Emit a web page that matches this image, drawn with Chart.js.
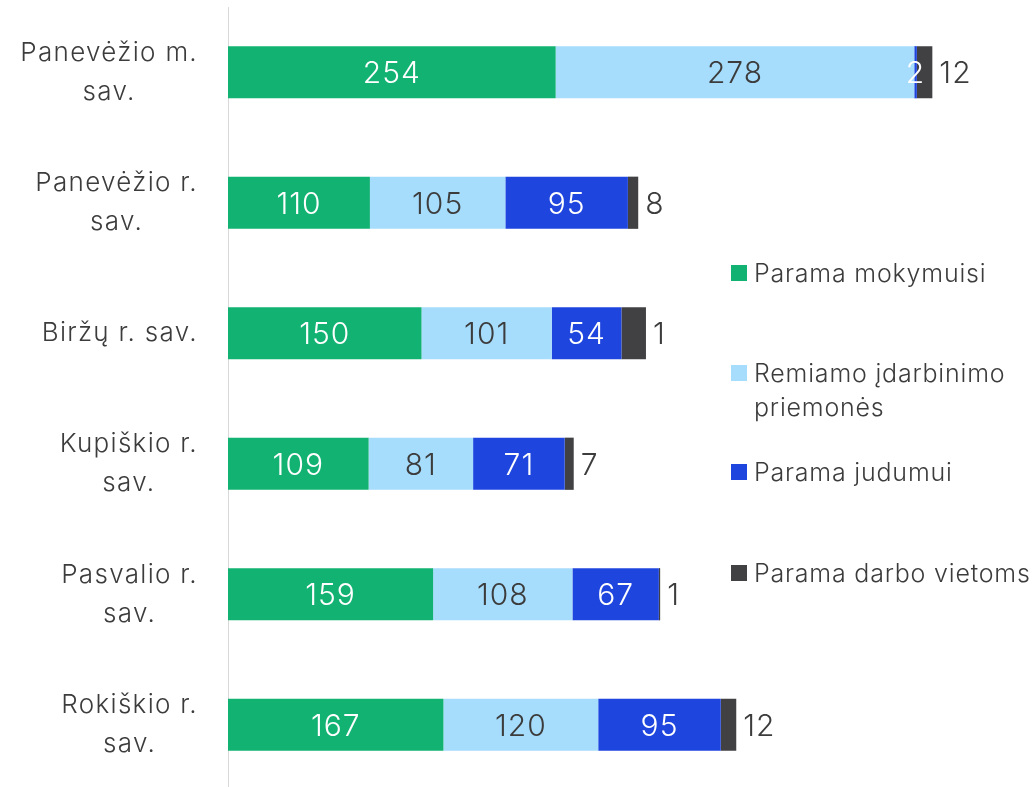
<!DOCTYPE html>
<html>
<head>
<meta charset="utf-8">
<script src="https://cdn.jsdelivr.net/npm/chart.js@4.4.0/dist/chart.umd.min.js"></script>
<style>
    html, body { margin: 0; padding: 0; background: #fff; overflow: hidden; }
    #wrap { position: relative; width: 1035px; height: 795px; }
    #legend { position: absolute; left: 731px; top: 0; font-family: Inter, sans-serif; font-weight: 300; font-size: 25px; letter-spacing: 0.8px; color: #3c3c3c; }
    .item { position: absolute; left: 0; white-space: nowrap; line-height: 34px; }
    .box { position: absolute; left: 0; top: 9px; width: 16px; height: 16px; }
    .txt { position: absolute; left: 23px; top: 0; }
</style>
</head>
<body>
<div id="wrap">
    <canvas id="chart" width="1035" height="795"></canvas>
    <div id="legend"></div>
</div>
<script>
const categories = [
    ['Panevėžio m.', 'sav.'],
    ['Panevėžio r.', 'sav.'],
    ['Biržų r. sav.'],
    ['Kupiškio r.', 'sav.'],
    ['Pasvalio r.', 'sav.'],
    ['Rokiškio r.', 'sav.'],
];
const seriesNames = [
    'Parama mokymuisi',
    'Remiamo įdarbinimo priemonės',
    'Parama judumui',
    'Parama darbo vietoms',
];
const mokymuisi = [254, 110, 150, 109, 159, 167];
const idarbinimo = [278, 105, 101, 81, 108, 120];
const judumui = [2, 95, 54, 71, 67, 95];
const darboVietoms = [12, 8, 19, 7, 1, 12];
const darboVietomsLabels = ['12', '8', '1', '7', '1', '12'];

const colors = ['#12b272', '#a6dcfc', '#1f45df', '#414143'];
const labelColors = ['#ffffff', '#3c3c3c', '#ffffff', '#3c3c3c'];
const FONT = 'Inter, sans-serif';

// legend (html, positioned by hand)
const legendRows = [
    { lines: ['Parama mokymuisi'], top: 256 },
    { lines: ['Remiamo įdarbinimo', 'priemonės'], top: 356 },
    { lines: ['Parama judumui'], top: 455 },
    { lines: ['Parama darbo vietoms'], top: 556 },
];
const legend = document.getElementById('legend');
legendRows.forEach((row, i) => {
    const div = document.createElement('div');
    div.className = 'item';
    div.style.top = row.top + 'px';
    div.innerHTML =
        '<span class="box" style="background:' + colors[i] + '"></span>' +
        '<span class="txt">' + row.lines.join('<br>') + '</span>';
    legend.appendChild(div);
});

const barLabels = {
    id: 'barLabels',
    afterDatasetsDraw(chart) {
        const ctx = chart.ctx;
        ctx.save();
        ctx.font = '300 30px ' + FONT;
        ctx.letterSpacing = '1px';
        ctx.textBaseline = 'middle';
        chart.data.datasets.forEach((ds, di) => {
            const meta = chart.getDatasetMeta(di);
            meta.data.forEach((bar, i) => {
                ctx.fillStyle = labelColors[di];
                if (di === 3) {
                    ctx.textAlign = 'left';
                    ctx.fillText(darboVietomsLabels[i], bar.x + 7, bar.y + 2);
                } else {
                    ctx.textAlign = 'center';
                    ctx.fillText(String(ds.data[i]), (bar.x + bar.base) / 2, bar.y + 2);
                }
            });
        });
        ctx.restore();
    },
    afterDraw(chart) {
        // category labels: block right aligned, lines centred inside the block
        const ctx = chart.ctx;
        const y = chart.scales.y;
        ctx.save();
        ctx.font = '300 26px ' + FONT;
        ctx.letterSpacing = '1.3px';
        ctx.fillStyle = '#3c3c3c';
        ctx.textAlign = 'center';
        ctx.textBaseline = 'middle';
        const right = 198;
        const lh = 39;
        categories.forEach((lines, i) => {
            const w = Math.max(...lines.map((l) => ctx.measureText(l).width));
            const cx = right - w / 2;
            const cy = y.getPixelForValue(i);
            lines.forEach((l, k) => {
                ctx.fillText(l, cx, cy + (k - (lines.length - 1) / 2) * lh);
            });
        });
        ctx.restore();
    },
};

const data = [mokymuisi, idarbinimo, judumui, darboVietoms];

new Chart(document.getElementById('chart'), {
    type: 'bar',
    data: {
        labels: categories.map((c) => c.join(' ')),
        datasets: data.map((d, i) => ({
            label: seriesNames[i],
            data: d,
            backgroundColor: colors[i],
            borderWidth: 0,
            categoryPercentage: 1,
            barPercentage: 0.4,
        })),
    },
    options: {
        indexAxis: 'y',
        responsive: false,
        animation: false,
        layout: { padding: { left: 220, right: 33, top: 7, bottom: 5 } },
        plugins: { legend: { display: false }, tooltip: { enabled: false } },
        scales: {
            x: { stacked: true, display: false, min: 0, max: 600 },
            y: {
                stacked: true,
                grid: { display: false },
                border: { display: true, color: '#d9d9d9', width: 1 },
                ticks: { display: false },
            },
        },
    },
    plugins: [barLabels],
});
</script>
</body>
</html>
